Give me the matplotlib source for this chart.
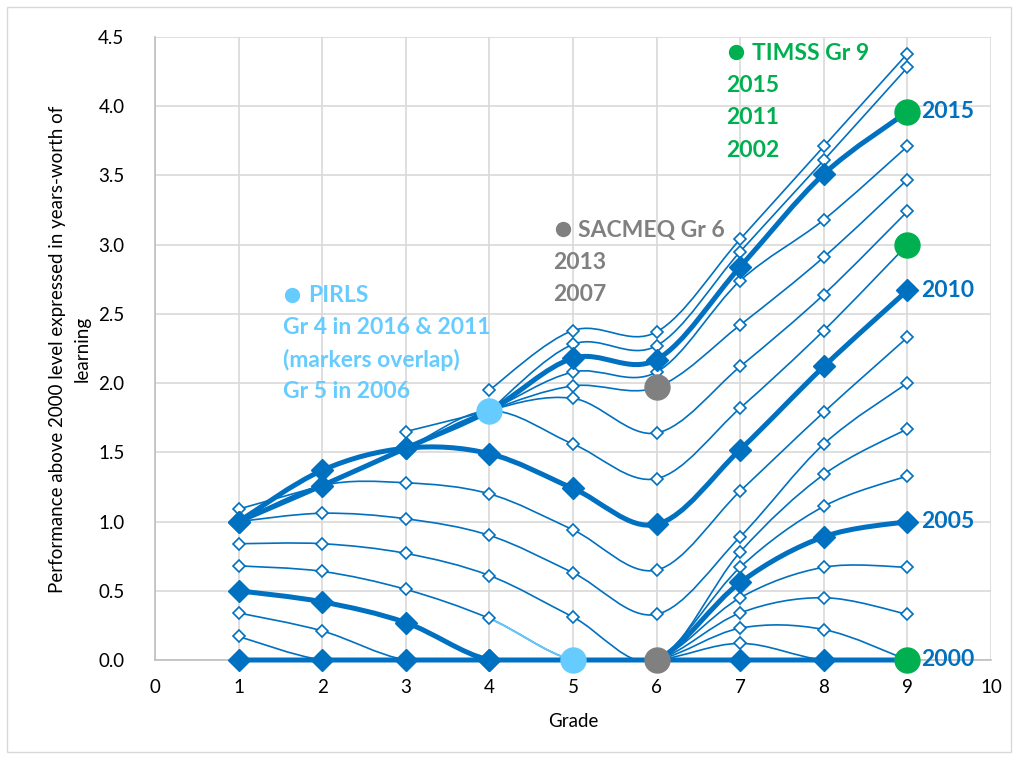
import numpy as np
import matplotlib
matplotlib.use('Agg')
import matplotlib.pyplot as plt
from matplotlib.path import Path
from matplotlib.patches import PathPatch, Rectangle

plt.rcParams['font.family'] = ['Lato', 'DejaVu Sans']

# grades on the x axis
grades = [1, 2, 3, 4, 5, 6, 7, 8, 9]
nan = np.nan

# performance above 2000 level, one list per year (grades 1..9)
y2000 = [0, 0, 0, 0, 0, 0, 0, 0, 0]
y2001 = [0, 0, 0, 0, 0, 0, 0.12, 0, 0]
y2002 = [0, 0, 0, 0, 0, 0, 0.23, 0.22, 0]
y2003 = [0.17, 0, 0, 0, 0, 0, 0.34, 0.45, 0.33]
y2004 = [0.34, 0.21, 0, 0, 0, 0, 0.45, 0.67, 0.67]
y2005 = [0.50, 0.42, 0.27, 0, 0, 0, 0.56, 0.89, 1.00]
y2006 = [0.68, 0.64, 0.51, 0.30, 0, 0, 0.67, 1.11, 1.33]
y2007 = [0.84, 0.84, 0.77, 0.61, 0.31, 0, 0.78, 1.34, 1.67]
y2008 = [1.00, 1.06, 1.02, 0.90, 0.63, 0.33, 0.89, 1.56, 2.00]
y2009 = [1.00, 1.26, 1.28, 1.20, 0.94, 0.65, 1.22, 1.79, 2.33]
y2010 = [1.00, 1.37, 1.53, 1.49, 1.24, 0.98, 1.52, 2.12, 2.67]
y2011 = [1.00, 1.26, 1.53, 1.80, 1.56, 1.31, 1.82, 2.38, 3.00]
y2012 = [1.00, 1.26, 1.53, 1.80, 1.89, 1.64, 2.12, 2.64, 3.24]
y2013 = [1.00, 1.26, 1.53, 1.80, 1.98, 1.97, 2.42, 2.91, 3.47]
y2014 = [1.00, 1.26, 1.53, 1.80, 2.08, 2.08, 2.74, 3.18, 3.71]
y2015 = [1.00, 1.26, 1.53, 1.80, 2.18, 2.17, 2.84, 3.51, 3.96]
y2016 = [1.09, 1.26, nan, 1.80, 2.28, 2.27, 2.95, 3.61, 4.28]
y2017 = [nan, nan, 1.65, 1.80, nan, nan, nan, nan, nan]
y2018 = [nan, nan, nan, 1.95, 2.38, 2.37, 3.04, 3.71, 4.38]

series = [y2000, y2001, y2002, y2003, y2004, y2005, y2006, y2007, y2008, y2009,
          y2010, y2011, y2012, y2013, y2014, y2015, y2016, y2017, y2018]
bold_series = [y2000, y2005, y2010, y2015]

# survey anchor points
pirls_x = [4, 5]
pirls_y = [1.80, 0]
sacmeq_x = [6, 6]
sacmeq_y = [1.97, 0]
timss_x = [9, 9, 9]
timss_y = [3.96, 3.00, 0]

# end labels
end_labels = ['2015', '2010', '2005', '2000']
end_values = [3.96, 2.67, 1.0, 0]

BLUE = '#0070C0'
LBLUE = '#66CCFF'
GREY = '#808080'
GREEN = '#00B050'


def smooth_path(xs, ys, i0=None):
    # excel-like smoothed line, drawn as cubic bezier segments
    verts, codes = [], []
    runs, cur = [], []
    for x, y in zip(xs, ys):
        if np.isnan(y):
            if cur:
                runs.append(cur)
            cur = []
        else:
            cur.append(np.array([x, y], dtype=float))
    if cur:
        runs.append(cur)
    for run in runs:
        n = len(run)
        for i in range(n - 1):
            p0 = run[i - 1] if i > 0 else run[i]
            p1 = run[i]
            p2 = run[i + 1]
            p3 = run[i + 2] if i + 2 < n else run[i + 1]
            c1 = p1 + (p2 - p0) / 6.0
            c2 = p2 - (p3 - p1) / 6.0
            if i0 is not None and p1[0] != i0:
                continue
            verts += [tuple(p1), tuple(c1), tuple(c2), tuple(p2)]
            codes += [Path.MOVETO, Path.CURVE4, Path.CURVE4, Path.CURVE4]
    if not verts:
        return None
    return Path(verts, codes)


fig = plt.figure(figsize=(10.18, 7.6), dpi=100)
ax = fig.add_axes([155 / 1018, 1 - 660 / 760, 836 / 1018, 623 / 760])

for s in series:
    thick = any(s is b for b in bold_series)
    path = smooth_path(grades, s)
    if path is not None:
        pp = PathPatch(path, facecolor='none', edgecolor=BLUE,
                       lw=3.6 if thick else 1.2, zorder=3 if thick else 2,
                       capstyle='round', joinstyle='round')
        ax.add_patch(pp)
        if s is y2000:
            pp.set_clip_on(False)

# PIRLS 2006 segment drawn in light blue
seg = smooth_path(grades, y2006, i0=4)
ax.add_patch(PathPatch(seg, facecolor='none', edgecolor=LBLUE, lw=1.2, zorder=2.5))

for s in series:
    thick = any(s is b for b in bold_series)
    if thick:
        ax.plot(grades, s, linestyle='none', marker='D', ms=11.5, color=BLUE,
                zorder=4, clip_on=False)
    else:
        ax.plot(grades, s, linestyle='none', marker='D', ms=6.5, mfc='white',
                mec=BLUE, mew=1.2, zorder=3.5, clip_on=False)

ax.plot(pirls_x, pirls_y, 'o', ms=18, color=LBLUE, zorder=5, clip_on=False)
ax.plot(sacmeq_x, sacmeq_y, 'o', ms=18, color=GREY, zorder=5, clip_on=False)
ax.plot(timss_x, timss_y, 'o', ms=18, color=GREEN, zorder=5, clip_on=False)

ax.set_xlim(0, 10)
ax.set_ylim(0, 4.5)
ax.set_xticks(range(0, 11))
ax.set_yticks(np.arange(0, 4.51, 0.5))
ax.set_yticklabels(['%.1f' % v for v in np.arange(0, 4.51, 0.5)])
ax.tick_params(length=0, labelsize=13.5, colors='#000000')
ax.tick_params(axis='x', pad=14)
ax.tick_params(axis='y', pad=22)
ax.grid(True, color='#D9D9D9', lw=1.2)
ax.set_axisbelow(True)
for sp in ['top', 'right']:
    ax.spines[sp].set_visible(False)
for sp in ['left', 'bottom']:
    ax.spines[sp].set_color('#BFBFBF')
    ax.spines[sp].set_linewidth(1.2)

ax.set_xlabel('Grade', fontsize=13.5, labelpad=12)
fig.text(70 / 1018, 1 - 349 / 760,
         'Performance above 2000 level expressed in years-worth of\nlearning',
         rotation=90, ha='center', va='center', multialignment='center',
         fontsize=13.5, linespacing=1.55)

# end labels for highlighted years
for lab, v in zip(end_labels, end_values):
    ax.text(9.17, v, lab, color=BLUE, fontsize=16.5, fontweight='bold',
            va='center', ha='left', zorder=6)

tk = dict(fontsize=16.5, fontweight='bold', va='center', ha='left', zorder=6)
# PIRLS note
ax.plot([1.64], [2.64], 'o', ms=10, color=LBLUE)
ax.text(1.83, 2.63, 'PIRLS', color=LBLUE, **tk)
ax.text(1.53, 2.40, 'Gr 4 in 2016 & 2011', color=LBLUE, **tk)
ax.text(1.53, 2.17, '(markers overlap)', color=LBLUE, **tk)
ax.text(1.53, 1.94, 'Gr 5 in 2006', color=LBLUE, **tk)
# SACMEQ note
ax.plot([4.88], [3.11], 'o', ms=10, color=GREY)
ax.text(5.06, 3.10, 'SACMEQ Gr 6', color=GREY, **tk)
ax.text(4.76, 2.87, '2013', color=GREY, **tk)
ax.text(4.76, 2.64, '2007', color=GREY, **tk)
# TIMSS note
ax.plot([6.95], [4.39], 'o', ms=10, color=GREEN)
ax.text(7.14, 4.38, 'TIMSS Gr 9', color=GREEN, **tk)
ax.text(6.83, 4.15, '2015', color=GREEN, **tk)
ax.text(6.83, 3.92, '2011', color=GREEN, **tk)
ax.text(6.83, 3.68, '2002', color=GREEN, **tk)

fig.patches.append(Rectangle((7 / 1018, 8 / 760), 1004 / 1018, 745 / 760,
                             transform=fig.transFigure, fill=False,
                             edgecolor='#D9D9D9', lw=1))

fig.savefig('out.png', dpi=100)
